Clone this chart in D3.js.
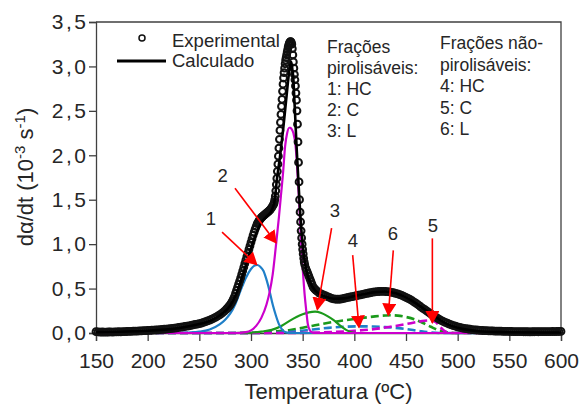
<!DOCTYPE html>
<html>
<head>
<meta charset="utf-8">
<script src="https://cdnjs.cloudflare.com/ajax/libs/d3/7.8.5/d3.min.js"></script>
<style>
body { margin: 0; background: #fff; }
svg { font-family: "Liberation Sans", Arial, sans-serif; }
</style>
</head>
<body>
<div class="dtg_graph"></div>
<script>
// values, temperature in ºC, dα/dt in 10^-3 s^-1
var experimental = [
  [150,.015],[152,.012],[154,.010],[156,.011],[158,.009],[160,.010],[162,.011],[164,.012],[166,.010],[168,.012],
  [170,.013],[172,.014],[174,.013],[176,.015],[178,.016],[180,.017],[182,.018],[184,.019],[186,.020],[188,.022],
  [190,.022],[192,.024],[194,.025],[196,.026],[198,.027],[200,.028],[202,.030],[204,.031],[206,.033],[208,.034],
  [210,.036],[212,.038],[214,.040],[216,.042],[218,.044],[220,.046],[222,.049],[224,.052],[226,.055],[228,.058],
  [230,.062],[232,.065],[234,.069],[236,.073],[238,.077],[240,.081],[242,.086],[244,.091],[246,.096],[248,.101],
  [250,.105],[252,.112],[254,.120],[256,.128],[258,.136],[260,.145],[262,.155],[264,.166],[266,.178],[268,.192],
  [270,.207],[272,.224],[274,.243],[276,.265],[277,.277],[278,.290],[279,.305],[280,.320],[281,.340],[282,.360],
  [283,.385],[284,.410],[285,.445],[286,.480],[287,.515],[288,.550],[289,.585],[290,.620],[291,.660],[292,.700],
  [293,.740],[294,.780],[295,.820],[296,.860],[297,.900],[298,.940],[299,.980],[300,1.02],[301,1.06],[302,1.10],
  [303,1.135],[304,1.17],[305,1.20],[306,1.23],[307,1.25],[308,1.27],[309,1.285],[310,1.30],[311,1.31],[312,1.32],
  [313,1.33],[314,1.34],[315,1.35],[316,1.36],[317,1.37],[318,1.38],[319,1.395],[320,1.41],[321,1.43],[322,1.45],
  [322.5,1.47],[323,1.50],
  [323.5,1.54],[324,1.60],[324.5,1.67],[325,1.74],[325.5,1.82],[326,1.90],[326.5,1.99],[327,2.08],[327.5,2.18],
  [328,2.28],[328.5,2.37],[329,2.46],[329.5,2.55],[330,2.63],[330.5,2.72],[331,2.80],[331.5,2.87],[332,2.93],
  [332.5,2.98],[333,3.03],[333.5,3.07],[334,3.10],[334.5,3.13],[335,3.16],[335.5,3.19],[336,3.22],[336.5,3.24],
  [337,3.26],[337.5,3.27],[338,3.28],[338.5,3.28],[339,3.27],[339.5,3.25],[340,3.20],[340.5,3.13],[341,3.05],
  [341.5,2.98],[342,2.91],[342.5,2.85],[343,2.78],[343.5,2.70],[344,2.62],[344.5,2.50],[345,2.35],[345.5,2.15],
  [346,1.92],[346.5,1.70],[347,1.50],[347.5,1.36],[348,1.25],[348.5,1.15],[349,1.07],[349.5,1.00],[350,.940],
  [350.5,.890],[351,.840],[351.5,.800],[352,.770],[353,.730],[354,.700],[355,.670],[356,.640],[357,.610],
  [358,.580],[359,.550],[360,.520],[361,.505],[362,.490],[363,.480],[364,.470],[366,.450],[368,.440],[370,.430],
  [372,.420],[374,.410],
  [376,.400],[378,.390],[380,.385],[382,.380],[384,.380],[386,.380],[388,.385],[390,.390],[392,.395],[394,.400],
  [396,.405],[398,.410],[400,.415],[402,.420],[404,.425],[406,.430],[408,.435],[410,.440],[412,.445],[414,.450],
  [416,.455],[418,.460],[420,.462],[422,.465],[424,.467],[426,.468],[428,.468],[430,.467],[432,.465],[434,.462],
  [436,.458],[438,.453],[440,.447],[442,.440],[444,.432],[446,.423],[448,.413],[450,.402],[452,.390],[454,.377],
  [456,.363],[458,.348],[460,.332],[462,.315],[464,.298],[466,.280],[468,.265],[470,.250],[472,.232],[474,.216],
  [476,.200],[478,.185],[480,.170],[482,.156],[484,.143],[486,.131],[488,.120],[490,.110],[492,.100],[494,.091],
  [496,.083],[498,.076],[500,.069],[502,.063],[504,.058],[506,.053],[508,.049],[510,.045],[512,.042],[514,.039],
  [516,.036],[518,.034],[520,.032],[522,.030],[524,.028],[526,.027],[528,.026],[530,.025],[532,.024],[534,.023],
  [536,.022],[538,.021],[540,.020],[542,.020],[544,.019],[546,.018],[548,.018],[550,.017],[552,.017],[554,.016],
  [556,.016],[558,.015],[560,.015],[562,.015],[564,.014],[566,.014],[568,.014],[570,.013],[572,.014],[574,.014],
  [576,.015],[578,.014],[580,.015],[582,.015],[584,.016],[586,.015],[588,.016],[590,.016],[592,.017],[594,.016],
  [596,.017],[598,.017],[600,.018]
];

var calculado = [
  [150,.010],[200,.025],[230,.055],[250,.100],[260,.135],[270,.200],[280,.310],[285,.420],[290,.580],[295,.760],
  [300,.950],[305,1.12],[310,1.24],[315,1.31],[320,1.38],[323,1.50],[325,1.72],[328,1.98],[331,2.28],[334,2.62],
  [336,2.85],[338,3.02],[339,3.05],[340,2.97],[341,2.86],[342,2.62],[343,2.38],[344,2.12],[345,1.90],[346,1.68],
  [347,1.47],[348,1.28],[350,1.00],[352,.800],[355,.640],[358,.550],[362,.480],[366,.440],[372,.410],[380,.385],
  [390,.390],[400,.415],[410,.440],[420,.460],[430,.467],[440,.447],[450,.400],[460,.330],[470,.250],[480,.170],
  [490,.100],[500,.060],[510,.035],[520,.020],[540,.010],[600,.005]
];

// pyrolisable fractions
var hcPir = [[150,0],[230,0],[240,.005],[250,.015],[260,.04],[270,.10],[275,.15],[280,.22],[285,.33],[290,.48],
  [295,.62],[300,.72],[303,.755],[306,.765],[309,.745],[312,.70],[315,.60],[318,.47],[321,.32],[324,.20],[327,.10],
  [330,.04],[333,.01],[337,0],[600,0]];
var cPir = [[150,0],[285,0],[295,.01],[300,.03],[305,.08],[310,.17],[315,.32],[318,.46],[321,.66],[324,.97],
  [327,1.30],[329,1.55],[331,1.80],[333,2.10],[335,2.25],[337,2.31],[338,2.31],[339,2.30],[341,2.25],[343,2.12],
  [344.5,1.90],[346,1.60],[347.5,1.27],[349,.90],[350.5,.65],[352,.42],[353.5,.25],[355,.10],[357,.03],[360,0],[600,0]];
var lPir = [[150,0],[280,0],[300,.005],[310,.015],[320,.035],[328,.07],[335,.12],[344,.18],[350,.21],[356,.232],
  [362,.24],[368,.225],[374,.19],[380,.145],[386,.085],[392,.035],[397,.008],[402,0],[600,0]];

// non-pyrolisable fractions
var hcNao = [[150,0],[300,0],[330,.005],[345,.02],[360,.04],[375,.058],[390,.07],[405,.075],[418,.073],[430,.066],
  [445,.052],[455,.037],[465,.018],[475,.005],[485,0],[600,0]];
var cNao = [[150,0],[340,0],[360,.004],[380,.012],[400,.025],[420,.045],[435,.07],[450,.10],[460,.122],[468,.138],
  [474,.142],[479,.12],[483,.07],[487,.025],[491,.005],[495,0],[600,0]];
var lNao = [[150,0],[290,0],[310,.008],[325,.02],[338,.034],[350,.058],[360,.082],[370,.105],[380,.125],[390,.142],
  [400,.158],[410,.173],[420,.187],[430,.197],[436,.20],[442,.196],[450,.18],[458,.155],[466,.115],[474,.07],
  [482,.03],[490,.008],[497,0],[600,0]];

var xTicks = [150, 200, 250, 300, 350, 400, 450, 500, 550, 600];
var yTicks = [0, 0.5, 1, 1.5, 2, 2.5, 3, 3.5];

var textPir = ["Frações", "pirolisáveis:", "1: HC", "2: C", "3: L"];
var textNao = ["Frações não-", "pirolisáveis:", "4: HC", "5: C", "6: L"];

// number, where it sits, arrow start and arrow tip (data units)
var arrows = [
  {n: "1", at: [261.3, 1.215], from: [272, 1.136], to: [305.5, 0.77]},
  {n: "2", at: [272.5, 1.70],  from: [284.5, 1.63], to: [324.2, 1.016]},
  {n: "3", at: [381.3, 1.305], from: [378, 1.18],  to: [364.2, 0.266]},
  {n: "4", at: [398.7, 0.967], from: [398.4, 0.877], to: [404.5, 0.064]},
  {n: "6", at: [437.4, 1.046], from: [437.7, 0.93], to: [432.9, 0.2]},
  {n: "5", at: [476.1, 1.136], from: [475.5, 1.065], to: [475.5, 0.116]}
];

var margin = {top: 22, right: 18, bottom: 72, left: 96},
    width = 579 - margin.left - margin.right,
    height = 405 - margin.top - margin.bottom;

var x = d3.scaleLinear().domain([150, 600]).range([0, width]);
var y = d3.scaleLinear().domain([0, 3.5]).range([height, 0]);

var comma = d3.formatLocale({decimal: ",", thousands: ".", grouping: [3], currency: ["", ""]}).format(".1f");

var root = d3.select(".dtg_graph").append("svg")
    .attr("width", 579)
    .attr("height", 405);

root.append("defs").append("marker")
    .attr("id", "head")
    .attr("viewBox", "0 0 10 10")
    .attr("preserveAspectRatio", "none")
    .attr("refX", 9).attr("refY", 5)
    .attr("markerUnits", "userSpaceOnUse")
    .attr("markerWidth", 13).attr("markerHeight", 14)
    .attr("orient", "auto")
  .append("path").attr("d", "M0,0L10,5L0,10z").attr("fill", "#ff0000");

var svg = root.append("g")
    .attr("transform", "translate(" + margin.left + "," + margin.top + ")");

// frame top + right
svg.append("path")
    .attr("d", "M0,0H" + width + "V" + height)
    .attr("fill", "none").attr("stroke", "#404040").attr("stroke-width", 1.3);

var xAxis = svg.append("g").attr("transform", "translate(0," + height + ")")
    .call(d3.axisBottom(x).tickValues(xTicks).tickSize(8).tickPadding(12).tickFormat(d3.format("d")));
var yAxis = svg.append("g")
    .call(d3.axisLeft(y).tickValues(yTicks).tickSize(7).tickPadding(3).tickFormat(comma));

[xAxis, yAxis].forEach(function(a) {
  a.select(".domain").attr("stroke", "#404040").attr("stroke-width", 1.3);
  a.selectAll(".tick line").attr("stroke", "#404040").attr("stroke-width", 1.3);
  a.selectAll(".tick text").attr("fill", "#262626").style("font-size", "21px")
      .style("font-family", "'Liberation Sans', Arial, sans-serif");
});
yAxis.selectAll(".tick text").style("letter-spacing", "2.5px").attr("x", -7.5);

var line = d3.line()
    .x(function(d) { return x(d[0]); })
    .y(function(d) { return y(d[1]); })
    .curve(d3.curveMonotoneX);

var comps = [
  {d: lNao, c: "#1b9a1b", dash: "8,4"},
  {d: hcNao, c: "#1f7fc8", dash: "8,4"},
  {d: cNao, c: "#cc00cc", dash: "8,4"},
  {d: lPir, c: "#1b9a1b", dash: null},
  {d: hcPir, c: "#1f7fc8", dash: null},
  {d: cPir, c: "#cc00cc", dash: null}
];
comps.forEach(function(s) {
  svg.append("path").datum(s.d)
      .attr("fill", "none")
      .attr("stroke", s.c)
      .attr("stroke-width", s.dash ? 2.6 : 2.2)
      .attr("stroke-dasharray", s.dash)
      .attr("d", line);
});

svg.selectAll("circle.exp").data(experimental).enter().append("circle")
    .attr("class", "exp")
    .attr("cx", function(d) { return x(d[0]); })
    .attr("cy", function(d) { return y(d[1]); })
    .attr("r", 3.4)
    .attr("fill", "none")
    .attr("stroke", "#111")
    .attr("stroke-width", 2);

svg.append("path").datum(calculado)
    .attr("fill", "none").attr("stroke", "#000").attr("stroke-width", 2.6)
    .attr("d", line);

// arrows + numbers
svg.selectAll("line.arrow").data(arrows).enter().append("line")
    .attr("class", "arrow")
    .attr("x1", function(d) { return x(d.from[0]); })
    .attr("y1", function(d) { return y(d.from[1]); })
    .attr("x2", function(d) { return x(d.to[0]); })
    .attr("y2", function(d) { return y(d.to[1]); })
    .attr("stroke", "#ff0000").attr("stroke-width", 1.6)
    .attr("marker-end", "url(#head)");
svg.selectAll("text.num").data(arrows).enter().append("text")
    .attr("class", "num")
    .attr("x", function(d) { return x(d.at[0]); })
    .attr("y", function(d) { return y(d.at[1]); })
    .attr("text-anchor", "middle")
    .attr("fill", "#262626")
    .style("font-size", "18.5px")
    .text(function(d) { return d.n; });

// legend
root.append("circle").attr("cx", 142).attr("cy", 38).attr("r", 3)
    .attr("fill", "none").attr("stroke", "#111").attr("stroke-width", 1.5);
root.append("line").attr("x1", 117).attr("x2", 166).attr("y1", 61).attr("y2", 61)
    .attr("stroke", "#000").attr("stroke-width", 3);
root.append("text").attr("x", 172).attr("y", 46.5).attr("fill", "#262626")
    .style("font-size", "18.5px").text("Experimental");
root.append("text").attr("x", 172).attr("y", 67).attr("fill", "#262626")
    .style("font-size", "18.5px").text("Calculado");

root.selectAll("text.pir").data(textPir).enter().append("text")
    .attr("class", "pir")
    .attr("x", 327).attr("y", function(d, i) { return 52.5 + i * 21.2; })
    .attr("fill", "#262626").style("font-size", "17.5px")
    .text(function(d) { return d; });
root.selectAll("text.nao").data(textNao).enter().append("text")
    .attr("class", "nao")
    .attr("x", 440).attr("y", function(d, i) { return 49 + i * 21.5; })
    .attr("fill", "#262626").style("font-size", "17.5px")
    .text(function(d) { return d; });

// axis titles
root.append("text")
    .attr("x", margin.left + width / 2).attr("y", 399)
    .attr("text-anchor", "middle").attr("fill", "#262626")
    .style("font-size", "22px")
    .text("Temperatura (ºC)");

var yt = root.append("text")
    .attr("transform", "translate(33,177) rotate(-90)")
    .attr("text-anchor", "middle").attr("fill", "#262626")
    .style("font-size", "22px");
yt.append("tspan").text("dα/dt (10");
yt.append("tspan").attr("dy", -8).style("font-size", "15px").text("-3");
yt.append("tspan").attr("dy", 8).text(" s");
yt.append("tspan").attr("dy", -8).style("font-size", "15px").text("-1");
yt.append("tspan").attr("dy", 8).text(")");
</script>
</body>
</html>
